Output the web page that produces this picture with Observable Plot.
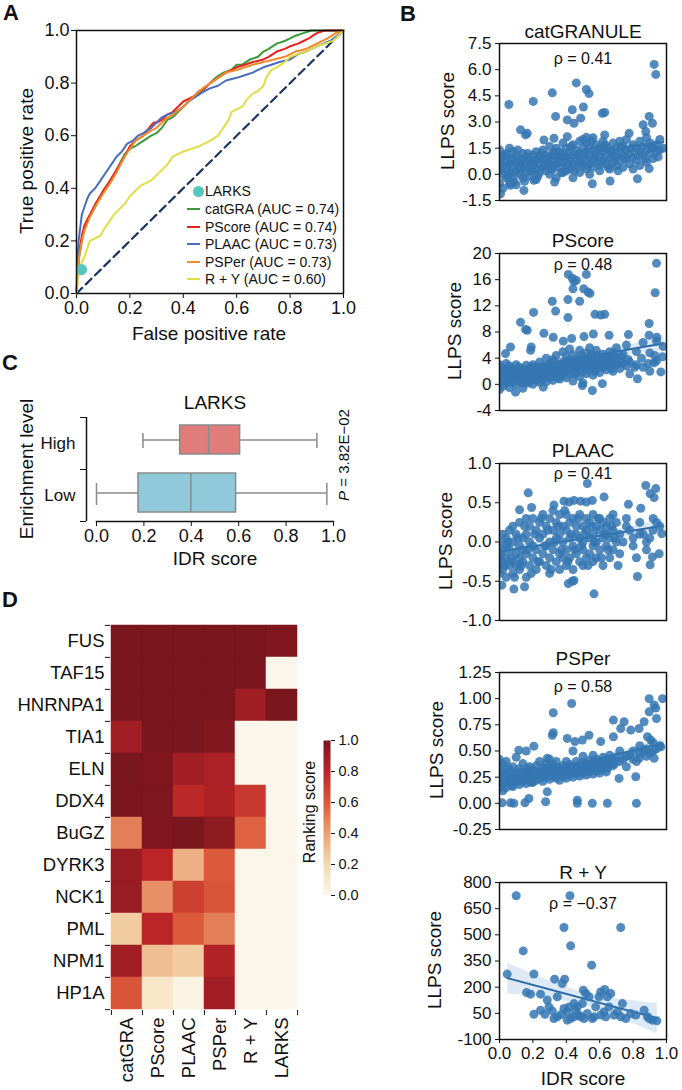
<!DOCTYPE html>
<html><head><meta charset="utf-8">
<script src="https://cdn.jsdelivr.net/npm/d3@7"></script>
<script src="https://cdn.jsdelivr.net/npm/@observablehq/plot@0.6"></script>
<style>
body{margin:0;background:#fff;font-family:"Liberation Sans",Arial,sans-serif;color:#111}
#root{position:relative;width:682px;height:1090px;overflow:hidden;background:#fff}
#root svg{position:absolute}
.t{position:absolute;white-space:nowrap;line-height:1;color:#111}
</style></head><body><div id="root"></div><script>
// ---------------- DATA ----------------
// Panel A: ROC curves [FPR, TPR]
const rocTicks = [0, 0.2, 0.4, 0.6, 0.8, 1.0];
const chanceLine = [0, 1];
const rocCatGRA = [[0,0],[0.005,0.08],[0.01,0.14],[0.02,0.2],[0.03,0.25],[0.04,0.28],[0.06,0.31],[0.08,0.35],[0.1,0.39],[0.12,0.42],[0.14,0.45],[0.16,0.49],[0.18,0.53],[0.2,0.55],[0.22,0.56],[0.25,0.58],[0.28,0.6],[0.3,0.61],[0.32,0.63],[0.34,0.66],[0.36,0.67],[0.38,0.69],[0.4,0.71],[0.42,0.73],[0.44,0.75],[0.46,0.76],[0.48,0.78],[0.5,0.8],[0.52,0.82],[0.55,0.84],[0.58,0.85],[0.6,0.87],[0.62,0.87],[0.65,0.89],[0.68,0.9],[0.7,0.92],[0.72,0.93],[0.75,0.95],[0.78,0.96],[0.8,0.97],[0.82,0.98],[0.85,0.99],[0.88,1.0],[0.9,1.0],[1,1]];
const rocPScore = [[0,0],[0.005,0.1],[0.01,0.16],[0.02,0.22],[0.03,0.26],[0.05,0.3],[0.07,0.34],[0.1,0.39],[0.12,0.42],[0.15,0.47],[0.18,0.52],[0.2,0.56],[0.22,0.58],[0.25,0.6],[0.28,0.64],[0.29,0.65],[0.3,0.65],[0.32,0.66],[0.34,0.68],[0.36,0.69],[0.38,0.71],[0.4,0.73],[0.42,0.74],[0.44,0.75],[0.46,0.77],[0.48,0.78],[0.5,0.8],[0.53,0.82],[0.56,0.84],[0.6,0.86],[0.63,0.87],[0.66,0.88],[0.7,0.89],[0.72,0.9],[0.75,0.92],[0.78,0.93],[0.8,0.94],[0.83,0.95],[0.85,0.96],[0.87,0.97],[0.9,0.99],[0.93,1.0],[1,1]];
const rocPLAAC = [[0,0],[0.003,0.12],[0.008,0.2],[0.015,0.26],[0.02,0.3],[0.03,0.33],[0.04,0.36],[0.05,0.38],[0.07,0.4],[0.09,0.43],[0.11,0.46],[0.13,0.49],[0.15,0.52],[0.17,0.54],[0.19,0.57],[0.21,0.58],[0.23,0.6],[0.25,0.61],[0.28,0.63],[0.3,0.65],[0.32,0.67],[0.34,0.68],[0.37,0.69],[0.4,0.71],[0.42,0.73],[0.45,0.75],[0.48,0.77],[0.5,0.78],[0.53,0.79],[0.56,0.81],[0.6,0.82],[0.63,0.83],[0.66,0.84],[0.7,0.86],[0.73,0.87],[0.76,0.88],[0.8,0.89],[0.83,0.91],[0.86,0.92],[0.9,0.94],[0.95,0.96],[1,1]];
const rocPSPer = [[0,0],[0.005,0.08],[0.01,0.14],[0.02,0.2],[0.03,0.24],[0.05,0.29],[0.07,0.33],[0.1,0.38],[0.12,0.41],[0.15,0.46],[0.18,0.52],[0.2,0.55],[0.22,0.58],[0.25,0.6],[0.28,0.62],[0.3,0.63],[0.33,0.66],[0.36,0.68],[0.4,0.71],[0.43,0.74],[0.46,0.77],[0.5,0.8],[0.53,0.82],[0.56,0.84],[0.6,0.85],[0.63,0.86],[0.66,0.87],[0.7,0.88],[0.74,0.89],[0.78,0.9],[0.82,0.92],[0.86,0.93],[0.9,0.95],[0.94,0.97],[0.97,0.99],[1,1]];
const rocRY = [[0,0],[0.005,0.04],[0.01,0.08],[0.02,0.12],[0.03,0.14],[0.04,0.17],[0.05,0.2],[0.07,0.21],[0.09,0.22],[0.1,0.24],[0.12,0.27],[0.14,0.3],[0.16,0.32],[0.18,0.34],[0.2,0.37],[0.22,0.39],[0.24,0.41],[0.26,0.42],[0.28,0.43],[0.3,0.45],[0.32,0.47],[0.34,0.49],[0.36,0.52],[0.38,0.53],[0.4,0.54],[0.43,0.55],[0.46,0.56],[0.5,0.58],[0.53,0.6],[0.55,0.63],[0.57,0.66],[0.58,0.69],[0.6,0.7],[0.62,0.71],[0.64,0.74],[0.66,0.76],[0.68,0.77],[0.7,0.79],[0.71,0.82],[0.73,0.85],[0.75,0.86],[0.78,0.88],[0.8,0.9],[0.83,0.91],[0.86,0.92],[0.9,0.94],[0.93,0.95],[0.96,0.96],[1,1]];
const larksPoint = [[0.019, 0.091]];
const rocNames = ["catGRA (AUC = 0.74)","PScore (AUC = 0.74)","PLAAC (AUC = 0.73)","PSPer (AUC = 0.73)","R + Y (AUC = 0.60)"];

// Panel B: scatter points [IDR score, LLPS score]
const idrTicks = [0, 0.2, 0.4, 0.6, 0.8, 1.0];
const catGranulePts = [[0.926,6.3],[0.936,5.73],[0.46,5.24],[0.52,4.86],[0.536,4.63],[0.316,4.67],[0.056,4.0],[0.202,4.18],[0.336,3.32],[0.436,3.7],[0.502,3.86],[0.486,3.22],[0.406,3.12],[0.446,2.93],[0.616,3.5],[0.63,3.55],[0.896,3.32],[0.86,2.84],[0.916,2.93],[0.126,2.55],[0.156,2.26],[0.166,2.35],[0.63,2.26],[0.776,2.35],[0.876,2.45],[0.266,1.97],[0.326,2.07],[0.406,2.16],[0.52,2.12],
[0.006,-1.11],[0.146,-0.92],[0.066,-0.63],[0.33,-0.44],[0.556,-0.54],[0.662,-0.38],[0.826,-0.25],[0.896,0.33],[0.086,-0.44],[0.206,-0.34],
[0,-0.5],[0,0.2],[0,0.8],[0,1.4],[0.02,0.0],[0.02,0.5],[0.02,1.0],[0.02,-0.8],[0.04,0.3],[0.04,1.2],[0.04,-0.2],[0.04,0.7],[0.06,0.6],[0.06,0.1],[0.06,1.5],[0.06,-0.5],[0.08,0.4],[0.08,0.9],[0.08,-0.3],[0.08,1.3],[0.1,0.2],[0.1,0.7],[0.1,1.1],[0.1,-0.6],[0.12,0.5],[0.12,0.0],[0.12,0.9],[0.14,0.3],[0.14,0.8],[0.14,1.2],[0.14,-0.2],[0.16,0.6],[0.16,0.1],[0.16,1.0],[0.18,0.4],[0.18,0.9],[0.18,-0.1],[0.18,0.7],[0.2,0.5],[0.2,1.1],[0.2,0.2],[0.22,0.8],[0.22,0.3],[0.22,1.3],[0.22,-0.3],[0.24,0.6],[0.24,1.0],[0.24,0.1],[0.26,0.4],[0.26,0.9],[0.26,1.4],[0.28,0.7],[0.28,0.2],[0.28,1.1],[0.3,0.5],[0.3,1.0],[0.3,1.6],[0.3,0.0],[0.32,0.8],[0.32,0.3],[0.32,1.2],[0.34,0.6],[0.34,1.1],[0.34,-0.2],[0.34,1.5],[0.36,0.4],[0.36,0.9],[0.36,1.3],[0.38,0.7],[0.38,1.2],[0.38,0.1],[0.38,1.8],[0.4,0.5],[0.4,1.0],[0.4,1.5],[0.4,0.2],[0.42,0.8],[0.42,1.3],[0.42,0.3],[0.44,0.6],[0.44,1.1],[0.44,1.7],[0.44,-0.2],[0.46,0.9],[0.46,0.4],[0.46,1.4],[0.48,0.7],[0.48,1.2],[0.48,0.1],[0.48,1.9],[0.5,0.5],[0.5,1.0],[0.5,1.5],[0.5,2.0],[0.52,0.8],[0.52,1.3],[0.52,0.3],[0.52,1.8],[0.54,0.6],[0.54,1.1],[0.54,1.6],[0.54,0.0],[0.56,0.9],[0.56,1.4],[0.56,0.4],[0.56,2.1],[0.58,0.7],[0.58,1.2],[0.58,1.7],[0.6,1.0],[0.6,0.5],[0.6,1.5],[0.6,0.2],[0.62,0.8],[0.62,1.3],[0.62,1.9],[0.64,1.1],[0.64,0.6],[0.64,1.6],[0.66,0.9],[0.66,1.4],[0.66,0.3],[0.68,1.2],[0.68,0.7],[0.68,1.8],[0.7,1.0],[0.7,1.5],[0.7,0.5],[0.72,1.3],[0.72,0.8],[0.72,1.9],[0.74,1.1],[0.74,1.6],[0.74,0.4],[0.76,0.9],[0.76,1.4],[0.76,2.0],[0.78,1.2],[0.78,0.6],[0.8,1.0],[0.8,1.7],[0.8,0.3],[0.82,1.5],[0.82,0.8],[0.84,1.3],[0.84,1.9],[0.84,0.5],[0.86,1.1],[0.86,1.6],[0.88,1.4],[0.88,0.7],[0.88,2.1],[0.9,1.2],[0.9,1.8],[0.92,1.5],[0.92,0.9],[0.94,1.7],[0.94,1.3],[0.96,1.4],[0.96,2.0],[0.98,1.5],
[0.01,0.3],[0.03,1.1],[0.05,-0.1],[0.07,0.9],[0.09,0.1],[0.11,1.4],[0.13,0.4],[0.15,-0.4],[0.17,1.2],[0.19,0.2],[0.21,0.8],[0.23,-0.1],[0.25,1.2],[0.27,0.5],[0.29,0.9],[0.31,0.3],[0.33,1.3],[0.35,0.7],[0.37,0.1],[0.39,1.0],[0.41,0.6],[0.43,1.6],[0.45,0.2],[0.47,1.1],[0.49,0.6],[0.51,1.2],[0.53,0.5],[0.55,1.9],[0.57,0.9],[0.59,1.4],[0.61,0.7],[0.63,1.7],[0.65,0.4],[0.67,1.3],[0.69,1.0],[0.71,0.2],[0.73,1.6],[0.75,0.9],[0.79,1.5],[0.83,1.1],[0.87,0.9],[0.91,1.6],[0.95,1.0]];
const pscorePts = [[0.94,18.5],[0.932,14.0],[0.412,16.8],[0.436,16.2],[0.446,15.7],[0.46,15.9],[0.52,16.8],[0.44,14.6],[0.504,14.6],[0.53,14.1],[0.542,13.9],[0.316,12.7],[0.41,12.95],[0.48,12.7],[0.336,11.2],[0.204,11.0],[0.41,10.2],[0.572,10.7],[0.606,10.6],[0.63,10.7],[0.126,9.5],[0.156,8.4],[0.166,8.25],[0.896,9.3],[0.266,7.8],[0.322,7.2],[0.382,6.6],[0.432,7.0],[0.506,7.3],[0.562,7.7],[0.656,7.5],[0.772,7.6],[0.896,7.5],[0.942,7.2],[0.066,5.7],[0.036,4.7],[0.19,5.7],[0.186,5.2],[0.976,4.2],[0.966,1.9],[0.926,3.3],[0.826,0.85],[0.556,-0.94],[0.496,-0.17],[0.096,-1.2],[0.262,-0.43],[0.616,0.1],
[0,0.0],[0,1.0],[0,2.0],[0,-0.8],[0,3.0],[0.02,0.5],[0.02,1.5],[0.02,2.5],[0.02,-0.3],[0.04,0.2],[0.04,1.2],[0.04,2.2],[0.04,3.2],[0.06,0.8],[0.06,1.8],[0.06,-0.5],[0.06,2.8],[0.08,0.3],[0.08,1.3],[0.08,2.3],[0.1,1.0],[0.1,0.0],[0.1,2.0],[0.1,3.0],[0.12,0.6],[0.12,1.6],[0.12,2.6],[0.14,0.2],[0.14,1.2],[0.14,2.2],[0.14,-0.6],[0.16,0.9],[0.16,1.9],[0.16,2.9],[0.18,0.4],[0.18,1.4],[0.18,2.4],[0.2,1.0],[0.2,2.0],[0.2,0.0],[0.2,3.0],[0.22,0.6],[0.22,1.6],[0.22,2.6],[0.24,1.2],[0.24,2.2],[0.24,0.3],[0.24,3.4],[0.26,0.8],[0.26,1.8],[0.26,2.8],[0.28,1.4],[0.28,2.4],[0.28,0.4],[0.28,4.0],[0.3,1.0],[0.3,2.0],[0.3,3.0],[0.32,1.6],[0.32,2.6],[0.32,0.6],[0.32,3.8],[0.34,1.2],[0.34,2.2],[0.34,3.2],[0.34,4.4],[0.36,1.8],[0.36,2.8],[0.36,0.8],[0.38,1.4],[0.38,2.4],[0.38,3.4],[0.38,5.0],[0.4,2.0],[0.4,3.0],[0.4,1.0],[0.4,4.2],[0.42,1.6],[0.42,2.6],[0.42,3.6],[0.42,5.4],[0.44,2.2],[0.44,3.2],[0.44,0.5],[0.44,4.5],[0.46,1.8],[0.46,2.8],[0.46,3.8],[0.48,2.4],[0.48,3.4],[0.48,1.2],[0.48,5.2],[0.5,2.0],[0.5,3.0],[0.5,4.0],[0.5,0.2],[0.52,2.6],[0.52,3.6],[0.52,1.6],[0.52,4.8],[0.54,2.2],[0.54,3.2],[0.54,4.2],[0.54,5.6],[0.56,2.8],[0.56,3.8],[0.56,1.4],[0.58,2.4],[0.58,3.4],[0.58,4.4],[0.58,5.2],[0.6,3.0],[0.6,4.0],[0.6,1.8],[0.62,2.6],[0.62,3.6],[0.62,4.6],[0.64,3.2],[0.64,4.2],[0.64,2.2],[0.66,2.8],[0.66,3.8],[0.66,5.0],[0.68,3.4],[0.68,4.4],[0.68,2.0],[0.7,3.0],[0.7,4.0],[0.7,5.6],[0.72,3.6],[0.72,2.4],[0.74,3.2],[0.74,4.6],[0.76,2.8],[0.76,6.0],[0.78,3.4],[0.78,1.6],[0.82,3.0],[0.82,5.0],[0.86,2.6],[0.86,6.4],[0.9,4.8],[0.9,2.0],[0.94,6.6],[0.94,3.6],[0.98,5.8],
[0.01,1.2],[0.03,2.0],[0.05,0.4],[0.07,2.4],[0.09,1.6],[0.11,0.5],[0.13,2.0],[0.15,1.4],[0.17,0.2],[0.19,2.6],[0.21,1.4],[0.23,2.2],[0.25,0.9],[0.27,2.4],[0.29,1.8],[0.31,3.4],[0.33,2.4],[0.35,1.0],[0.37,3.0],[0.39,2.0],[0.41,3.6],[0.43,2.8],[0.45,1.6],[0.47,3.2],[0.49,4.4],[0.51,2.4],[0.53,3.0],[0.55,4.6],[0.57,2.0],[0.59,3.8],[0.61,2.8],[0.63,4.0],[0.65,3.4],[0.67,2.4],[0.69,4.8],[0.71,3.2],[0.73,4.2],[0.77,3.8],[0.81,2.6],[0.85,4.0],[0.89,3.2],[0.93,4.4]];
const plaacPts = [[0.526,0.745],[0.876,0.72],[0.936,0.68],[0.172,0.626],[0.902,0.617],[0.626,0.574],[0.926,0.566],[0.446,0.53],[0.386,0.52],[0.416,0.51],[0.486,0.52],[0.52,0.51],[0.772,0.48],[0.846,0.43],[0.12,0.41],[0.192,0.44],[0.326,0.47],[0.556,0.53],[0.566,-0.66],[0.826,-0.44],[0.412,-0.53],[0.436,-0.5],[0.446,-0.49],[0.086,-0.6],[0.15,-0.57],[0.014,-0.55],[0.972,0.106],[0.956,-0.15],[0.902,-0.29],[0.916,-0.19],
[0,-0.4],[0,-0.2],[0,0.0],[0,-0.3],[0.02,-0.1],[0.02,-0.35],[0.02,0.1],[0.02,-0.25],[0.04,-0.2],[0.04,0.05],[0.04,-0.45],[0.04,-0.05],[0.06,-0.3],[0.06,-0.1],[0.06,0.15],[0.08,0.0],[0.08,-0.25],[0.08,-0.4],[0.08,0.2],[0.1,-0.15],[0.1,0.1],[0.1,-0.3],[0.12,-0.05],[0.12,0.25],[0.12,-0.35],[0.12,-0.2],[0.14,0.05],[0.14,-0.25],[0.14,-0.1],[0.16,-0.15],[0.16,0.1],[0.16,0.3],[0.16,-0.45],[0.18,-0.3],[0.18,0.0],[0.18,0.2],[0.2,-0.05],[0.2,0.3],[0.2,-0.2],[0.22,0.15],[0.22,-0.35],[0.22,-0.1],[0.24,-0.25],[0.24,0.05],[0.24,0.25],[0.26,0.1],[0.26,-0.15],[0.26,0.35],[0.28,-0.05],[0.28,-0.3],[0.28,0.2],[0.3,0.0],[0.3,-0.2],[0.3,0.3],[0.3,-0.4],[0.32,0.15],[0.32,-0.1],[0.32,0.4],[0.34,-0.25],[0.34,0.05],[0.34,0.25],[0.36,0.1],[0.36,-0.15],[0.36,-0.35],[0.36,0.35],[0.38,0.0],[0.38,0.2],[0.38,-0.2],[0.4,-0.1],[0.4,0.15],[0.4,0.35],[0.4,-0.3],[0.42,0.05],[0.42,-0.2],[0.42,0.25],[0.44,-0.05],[0.44,0.3],[0.44,-0.35],[0.46,0.1],[0.46,-0.15],[0.46,0.2],[0.48,-0.25],[0.48,0.05],[0.48,0.35],[0.5,0.0],[0.5,0.2],[0.5,-0.1],[0.5,-0.3],[0.52,0.15],[0.52,-0.2],[0.52,0.3],[0.54,0.05],[0.54,0.25],[0.54,-0.15],[0.56,0.1],[0.56,-0.05],[0.56,0.35],[0.56,-0.25],[0.58,0.2],[0.58,0.0],[0.58,-0.2],[0.6,0.15],[0.6,0.3],[0.6,-0.1],[0.62,0.05],[0.62,0.25],[0.62,-0.3],[0.64,0.2],[0.64,-0.05],[0.64,0.1],[0.66,0.3],[0.66,-0.2],[0.66,0.05],[0.68,0.15],[0.68,-0.1],[0.68,0.35],[0.7,0.0],[0.7,0.25],[0.72,0.1],[0.72,-0.15],[0.76,0.2],[0.76,0.3],[0.8,0.05],[0.8,-0.05],[0.84,0.25],[0.84,0.1],[0.88,0.0],[0.88,-0.1],[0.92,0.3],[0.92,0.15],[0.96,0.2],
[0.01,-0.15],[0.03,-0.3],[0.05,0.0],[0.07,-0.2],[0.09,-0.45],[0.11,0.05],[0.13,-0.3],[0.15,0.2],[0.17,-0.1],[0.19,-0.4],[0.21,0.1],[0.23,-0.25],[0.25,0.3],[0.27,-0.05],[0.29,0.15],[0.31,-0.35],[0.33,0.0],[0.35,0.2],[0.37,-0.1],[0.39,0.4],[0.41,-0.25],[0.43,0.1],[0.45,-0.1],[0.47,0.3],[0.49,-0.05],[0.51,0.1],[0.53,-0.3],[0.55,0.2],[0.57,0.0],[0.59,0.3],[0.61,-0.2],[0.63,0.1],[0.65,-0.1],[0.67,0.2],[0.69,0.05],[0.71,-0.3],[0.74,0.0],[0.78,0.15],[0.82,-0.2],[0.86,0.1],[0.9,0.05],[0.94,0.25]];
const psperPts = [[0.896,1.0],[0.976,1.0],[0.926,0.94],[0.936,0.91],[0.432,0.954],[0.322,0.865],[0.896,0.874],[0.94,0.81],[0.682,0.795],[0.746,0.78],[0.866,0.78],[0.322,0.674],[0.316,0.65],[0.536,0.65],[0.726,0.715],[0.786,0.7],[0.836,0.715],[0.886,0.636],[0.906,0.604],[0.406,0.62],[0.452,0.59],[0.496,0.604],[0.606,0.59],[0.682,0.636],[0.966,0.54],[0.116,0.508],[0.206,0.546],[0.286,0.43],[0.816,0.254],[0.716,0.238],[0.836,0.43],[0.926,0.43],
[0.016,0.005],[0.066,0.005],[0.086,0.0],[0.152,0.005],[0.176,0.046],[0.276,0.015],[0.286,0.11],[0.466,0.03],[0.466,0.0],[0.556,0.0],[0.646,0.0],[0.82,0.0],
[0,0.15],[0,0.25],[0,0.35],[0,0.2],[0,0.42],[0.02,0.18],[0.02,0.3],[0.02,0.12],[0.02,0.38],[0.04,0.22],[0.04,0.28],[0.04,0.15],[0.04,0.4],[0.06,0.2],[0.06,0.32],[0.06,0.26],[0.08,0.24],[0.08,0.16],[0.08,0.35],[0.1,0.2],[0.1,0.3],[0.1,0.27],[0.1,0.44],[0.12,0.23],[0.12,0.33],[0.12,0.18],[0.14,0.26],[0.14,0.21],[0.14,0.38],[0.16,0.24],[0.16,0.3],[0.16,0.19],[0.16,0.5],[0.18,0.28],[0.18,0.22],[0.18,0.35],[0.2,0.25],[0.2,0.32],[0.2,0.2],[0.22,0.27],[0.22,0.36],[0.22,0.22],[0.24,0.3],[0.24,0.24],[0.24,0.4],[0.26,0.28],[0.26,0.34],[0.26,0.21],[0.28,0.31],[0.28,0.25],[0.28,0.38],[0.3,0.29],[0.3,0.35],[0.3,0.23],[0.3,0.42],[0.32,0.32],[0.32,0.26],[0.32,0.37],[0.34,0.3],[0.34,0.24],[0.34,0.4],[0.36,0.33],[0.36,0.28],[0.36,0.22],[0.38,0.31],[0.38,0.36],[0.38,0.26],[0.4,0.29],[0.4,0.34],[0.4,0.4],[0.4,0.24],[0.42,0.32],[0.42,0.27],[0.42,0.37],[0.44,0.3],[0.44,0.35],[0.44,0.25],[0.44,0.5],[0.46,0.33],[0.46,0.28],[0.46,0.4],[0.48,0.31],[0.48,0.36],[0.48,0.26],[0.5,0.34],[0.5,0.29],[0.5,0.39],[0.5,0.45],[0.52,0.32],[0.52,0.37],[0.52,0.27],[0.54,0.35],[0.54,0.3],[0.54,0.41],[0.56,0.33],[0.56,0.38],[0.56,0.28],[0.56,0.46],[0.58,0.36],[0.58,0.31],[0.58,0.42],[0.6,0.34],[0.6,0.39],[0.6,0.29],[0.62,0.37],[0.62,0.32],[0.62,0.44],[0.64,0.35],[0.64,0.4],[0.64,0.3],[0.66,0.38],[0.66,0.46],[0.68,0.36],[0.68,0.42],[0.72,0.4],[0.72,0.5],[0.76,0.45],[0.76,0.35],[0.8,0.5],[0.8,0.42],[0.84,0.48],[0.84,0.55],[0.88,0.52],[0.88,0.45],[0.92,0.5],[0.92,0.58],[0.96,0.55],
[0.01,0.28],[0.03,0.2],[0.05,0.33],[0.07,0.17],[0.09,0.28],[0.11,0.22],[0.13,0.3],[0.15,0.24],[0.17,0.33],[0.19,0.2],[0.21,0.28],[0.23,0.3],[0.25,0.26],[0.27,0.32],[0.29,0.27],[0.31,0.33],[0.33,0.28],[0.35,0.34],[0.37,0.3],[0.39,0.27],[0.41,0.35],[0.43,0.3],[0.45,0.32],[0.47,0.36],[0.49,0.3],[0.51,0.36],[0.53,0.33],[0.55,0.37],[0.57,0.32],[0.59,0.38],[0.61,0.35],[0.63,0.4],[0.65,0.34],[0.67,0.4],[0.69,0.38],[0.7,0.44],[0.74,0.42],[0.78,0.46],[0.82,0.4],[0.86,0.5],[0.9,0.48],[0.94,0.52]];
const ryPts = [[0.1,724],[0.422,724],[0.386,542],[0.726,542],[0.426,437],[0.142,408],[0.552,326],[0.046,275],[0.206,275],[0.33,246],[0.39,246],[0.376,221],[0.162,169],[0.186,160],[0.246,160],[0.286,126],[0.346,145],[0.206,45],[0.272,45],[0.316,64],[0.326,20],[0.37,43],[0.406,58],[0.426,20],[0.456,68],[0.476,40],[0.502,183],[0.516,164],[0.536,145],[0.496,106],[0.526,49],[0.556,20],[0.576,87],[0.596,145],[0.606,173],[0.63,187],[0.646,145],[0.666,164],[0.626,58],[0.656,87],[0.686,40],[0.736,106],[0.706,58],[0.756,20],[0.786,49],[0.816,40],[0.866,68],[0.886,30],[0.916,11],[0.942,7],[0.896,20],[0.446,106],[0.416,87],[0.386,78],[0.296,87],[0.246,68],[0.486,30],[0.566,30],[0.466,87],[0.606,40],[0.636,30],[0.726,30],[0.346,30],[0.406,11],[0.506,20],[0.446,30]];

// Panel C: box statistics of IDR score
const boxGroups = ["High", "Low"];
const boxWhiskerLow = [0.196, 0.0];
const boxQ1 = [0.353, 0.177];
const boxMedian = [0.473, 0.398];
const boxQ3 = [0.606, 0.589];
const boxWhiskerHigh = [0.93, 0.972];

// Panel D: ranking scores
const genes = ["FUS","TAF15","HNRNPA1","TIA1","ELN","DDX4","BuGZ","DYRK3","NCK1","PML","NPM1","HP1A"];
const methods = ["catGRA","PScore","PLAAC","PSPer","R + Y","LARKS"];
const rankingScores = [
  [1.00, 1.00, 1.00, 1.00, 1.00, 0.98],
  [1.00, 1.00, 1.00, 1.00, 1.00, 0.00],
  [1.00, 1.00, 1.00, 1.00, 0.89, 1.00],
  [0.88, 1.00, 1.00, 0.97, 0.00, 0.00],
  [1.00, 0.98, 0.88, 0.85, 0.00, 0.00],
  [1.00, 0.99, 0.79, 0.84, 0.72, 0.00],
  [0.50, 0.98, 1.00, 0.94, 0.58, 0.00],
  [0.91, 0.80, 0.35, 0.60, 0.00, 0.00],
  [0.91, 0.45, 0.70, 0.62, 0.00, 0.00],
  [0.25, 0.80, 0.60, 0.50, 0.00, 0.00],
  [0.88, 0.30, 0.25, 0.83, 0.00, 0.00],
  [0.62, 0.12, 0.02, 0.88, 0.00, 0.00]
];
const colorbarTicks = [0, 0.2, 0.4, 0.6, 0.8, 1.0];

// ---------------- STYLE ----------------
const FONT = "'Liberation Sans', Arial, sans-serif";
const baseStyle = {fontFamily: FONT, fontSize: "15px", color: "#111", background: "transparent", overflow: "visible"};
const rocColors = ["#3a9a3c", "#e8231f", "#4a6cc0", "#f28a2c", "#e2dc45"];
const larksColor = "#55c7bd";
const dotColor = "#3577b3";
const boxFill = {High: "#e07c7a", Low: "#8fc9da"};
const boxGray = "#8a8a8a";
const heatStops = ["#fcf6ea", "#f3dbb0", "#eba275", "#dc5a3c", "#bb2528", "#7a161d"];
const heatColor = {type: "linear", domain: [0, 1], interpolate: d3.piecewise(d3.interpolateRgb, heatStops)};

const root = document.getElementById("root");
function place(el, left, top) { el.style.left = left + "px"; el.style.top = top + "px"; root.appendChild(el); }
function txt(html, x, y, {size = 19, weight = "normal", rotate = 0} = {}) {
  const d = document.createElement("div");
  d.className = "t"; d.innerHTML = html;
  d.style.left = x + "px"; d.style.top = y + "px"; d.style.fontSize = size + "px"; d.style.fontWeight = weight;
  d.style.transform = `translate(-50%,-50%) rotate(${rotate}deg)`;
  root.appendChild(d);
}
const f1 = d3.format(".1f");

// ---------------- PANEL A ----------------
const rocSeries = [rocCatGRA, rocPScore, rocPLAAC, rocPSPer, rocRY];
const plotA = Plot.plot({
  width: 355, height: 345, marginLeft: 76, marginRight: 12, marginTop: 30, marginBottom: 52,
  x: {domain: [0, 1], axis: null}, y: {domain: [0, 1], axis: null},
  style: baseStyle,
  marks: [
    Plot.axisX({ticks: rocTicks, tickFormat: f1, tickSize: 5, tickPadding: 3, label: null, fontSize: 18}),
    Plot.axisY({ticks: rocTicks, tickFormat: f1, tickSize: 5, tickPadding: 2, label: null, fontSize: 18}),
    Plot.line(chanceLine, {x: d => d, y: d => d, stroke: "#1c3461", strokeWidth: 2.2, strokeDasharray: "8,5"}),
    ...rocSeries.map((s, i) => Plot.line(s, {x: d => d[0], y: d => d[1], stroke: rocColors[i], strokeWidth: 2})),
    Plot.dot(larksPoint, {x: d => d[0], y: d => d[1], r: 5.5, fill: larksColor}),
    Plot.frame({stroke: "#111", strokeWidth: 1.5})
  ]
});
place(plotA, 0, 0);
txt("A", 11, 13, {size: 22, weight: "bold"});
txt("True positive rate", 26, 161, {size: 19, rotate: -90});
txt("False positive rate", 209, 333, {size: 19});
// legend
{
  const rows = [191, 209, 227, 244, 262, 279];
  const dot = document.createElement("div");
  dot.style.cssText = `position:absolute;left:${198-5.5}px;top:${rows[0]-5.5}px;width:11px;height:11px;border-radius:50%;background:${larksColor}`;
  root.appendChild(dot);
  const lab = document.createElement("div"); lab.className = "t"; lab.textContent = "LARKS";
  lab.style.cssText += `left:205px;top:${rows[0]}px;font-size:14px;transform:translateY(-50%)`;
  root.appendChild(lab);
  rocNames.forEach((n, i) => {
    const sw = document.createElement("div");
    sw.style.cssText = `position:absolute;left:187px;top:${rows[i+1]-1.25}px;width:13px;height:2.5px;background:${rocColors[i]}`;
    root.appendChild(sw);
    const t = document.createElement("div"); t.className = "t"; t.textContent = n;
    t.style.cssText += `left:205px;top:${rows[i+1]}px;font-size:14px;transform:translateY(-50%)`;
    root.appendChild(t);
  });
}

// ---------------- PANEL B ----------------
function scatter(pts, yDom, yTicks, fmt, frameTop, bottom, rho, rhoDy) {
  const mt = 10, mb = bottom ? 45 : 10;
  const p = Plot.plot({
    width: 282, height: 157 + mt + mb, marginLeft: 99, marginRight: 16, marginTop: mt, marginBottom: mb,
    x: {domain: [0, 1], axis: null}, y: {domain: yDom, axis: null},
    style: baseStyle,
    marks: [
      ...(bottom ? [Plot.axisX({ticks: idrTicks, tickFormat: f1, tickSize: 4, tickPadding: 3, label: null, fontSize: 17})] : []),
      Plot.axisY({ticks: yTicks, tickFormat: fmt, tickSize: 4, tickPadding: 4, label: null, fontSize: 17}),
      Plot.linearRegressionY(pts, {x: d => d[0], y: d => d[1], stroke: "#2a6aa8", strokeWidth: 2, fill: "#8fbbe0", fillOpacity: 0.3, clip: true}),
      Plot.dot(pts, {x: d => d[0], y: d => d[1], r: 4.5, fill: dotColor, fillOpacity: 0.85, clip: true}),
      Plot.text([rho], {text: d => d, frameAnchor: "top", lineAnchor: "middle", dy: rhoDy, fontSize: 16}),
      Plot.frame({stroke: "#111", strokeWidth: 1.5})
    ]
  });
  place(p, 400, frameTop - mt);
}
scatter(catGranulePts, [-1.5, 7.5], [-1.5, 0, 1.5, 3, 4.5, 6, 7.5], d => d.toFixed(1), 43, false, "ρ = 0.41", 15);
scatter(pscorePts, [-4, 20], [-4, 0, 4, 8, 12, 16, 20], d => String(d), 253, false, "ρ = 0.48", 11);
scatter(plaacPts, [-1, 1], [-1, -0.5, 0, 0.5, 1], d => d.toFixed(1), 463, false, "ρ = 0.41", 10);
scatter(psperPts, [-0.25, 1.25], [-0.25, 0, 0.25, 0.5, 0.75, 1, 1.25], d => d.toFixed(2), 672, false, "ρ = 0.58", 14);
scatter(ryPts, [-100, 800], [-100, 50, 200, 350, 500, 650, 800], d => String(d), 882, true, "ρ = −0.37", 21);
txt("B", 408, 14, {size: 22, weight: "bold"});
[["catGRANULE", 31, 121, 447], ["PScore", 240, 331, 454], ["PLAAC", 450, 541, 445], ["PSPer", 658, 750, 436], ["R + Y", 872, 960, 434]].forEach(([t, ty, ly, lx]) => {
  txt(t, 583, ty, {size: 19});
  txt("LLPS score", lx, ly, {size: 19, rotate: -90});
});
txt("IDR score", 583, 1078, {size: 19});

// ---------------- PANEL C ----------------
const boxStats = boxGroups.map((g, i) => ({group: g, lo: boxWhiskerLow[i], q1: boxQ1[i], med: boxMedian[i], q3: boxQ3[i], hi: boxWhiskerHigh[i]}));
const boxGeom = {High: {bt: 8, bb: 15, ct: 16, cb: 21, dy: -3.5}, Low: {bt: 4, bb: 9, ct: 14, cb: 16, dy: -2.5}};
const boxMarks = boxStats.flatMap(s => {
  const g = boxGeom[s.group];
  const sty = {stroke: boxGray, strokeWidth: 1.5};
  return [
    Plot.ruleY([s], {y: "group", x1: "lo", x2: "q1", dy: g.dy, ...sty}),
    Plot.ruleY([s], {y: "group", x1: "q3", x2: "hi", dy: g.dy, ...sty}),
    Plot.tickX([s], {x: "lo", y: "group", insetTop: g.ct, insetBottom: g.cb, ...sty}),
    Plot.tickX([s], {x: "hi", y: "group", insetTop: g.ct, insetBottom: g.cb, ...sty}),
    Plot.barX([s], {y: "group", x1: "q1", x2: "q3", fill: boxFill[s.group], insetTop: g.bt, insetBottom: g.bb, ...sty}),
    Plot.tickX([s], {x: "med", y: "group", insetTop: g.bt, insetBottom: g.bb, ...sty})
  ];
});
const plotC = Plot.plot({
  width: 360, height: 160, marginLeft: 96, marginRight: 27, marginTop: 12, marginBottom: 44,
  x: {domain: [0, 1], axis: null}, y: {type: "band", domain: boxGroups, padding: 0, axis: null},
  style: baseStyle,
  marks: [
    ...boxMarks,
    Plot.axisX({ticks: idrTicks, tickFormat: f1, tickSize: 5, tickPadding: 3, label: null, fontSize: 18}),
    Plot.frame({anchor: "bottom", stroke: "#111", strokeWidth: 1.5}),
    Plot.ruleX([0], {dx: -10, stroke: "#111", strokeWidth: 1.5}),
    Plot.axisY({tickSize: 0, tickPadding: 21, label: null, fontSize: 17}),
    Plot.axisY({ticks: boxGroups, tickSize: 6, tickFormat: () => "", dx: -10, dy: -26, label: null}),
    Plot.axisY({ticks: boxGroups.slice(-1), tickSize: 6, tickFormat: () => "", dx: -10, dy: 26, label: null})
  ]
});
place(plotC, 0, 405);
txt("C", 10, 363, {size: 22, weight: "bold"});
txt("LARKS", 215, 402, {size: 19});
txt("IDR score", 215, 558, {size: 19});
txt("Enrichment level", 26, 469, {size: 19, rotate: -90});
txt("<i>P</i> = 3.82E−02", 343, 455, {size: 15, rotate: -90});

// ---------------- PANEL D ----------------
const cells = genes.flatMap((g, i) => methods.map((m, j) => ({gene: g, method: m, value: rankingScores[i][j]})));
const bwX = 187 / 6, bwY = 387 / 12;
const plotD = Plot.plot({
  width: 300, height: 480, marginLeft: 110, marginRight: 3, marginTop: 13, marginBottom: 80,
  x: {domain: methods, padding: 0, axis: null}, y: {domain: genes, padding: 0, axis: null},
  color: heatColor,
  style: baseStyle,
  marks: [
    Plot.cell(cells, {x: "method", y: "gene", fill: "value", stroke: "value", strokeWidth: 0.5, inset: 0}),
    Plot.axisY({tickSize: 0, tickPadding: 6, fontSize: 18.5, label: null}),
    Plot.axisY({ticks: genes, tickSize: 5, tickFormat: () => "", dy: -bwY / 2, label: null}),
    Plot.axisY({ticks: genes.slice(-1), tickSize: 5, tickFormat: () => "", dy: bwY / 2, label: null}),
    Plot.axisX({tickSize: 0, tickPadding: 7, tickRotate: -90, fontSize: 18.5, label: null}),
    Plot.axisX({ticks: methods, tickSize: 5, tickFormat: () => "", dx: -bwX / 2, label: null}),
    Plot.axisX({ticks: methods.slice(-1), tickSize: 5, tickFormat: () => "", dx: bwX / 2, label: null})
  ]
});
place(plotD, 0, 610);
txt("D", 10, 600, {size: 22, weight: "bold"});

const plotCB = Plot.plot({
  width: 70, height: 175, marginLeft: 23, marginRight: 40, marginTop: 10, marginBottom: 10,
  x: {domain: [0, 1], axis: null}, y: {domain: [0, 1], axis: null},
  color: heatColor,
  style: baseStyle,
  marks: [
    Plot.raster({fill: (x, y) => y, x1: 0, x2: 1, y1: 0, y2: 1, width: 2, height: 200, imageRendering: "auto"}),
    Plot.axisY({anchor: "right", ticks: colorbarTicks, tickFormat: f1, tickSize: 4, tickPadding: 4, label: null, fontSize: 14.5})
  ]
});
place(plotCB, 300, 730);
txt("Ranking score", 310, 812, {size: 16, rotate: -90});
</script></body></html>
